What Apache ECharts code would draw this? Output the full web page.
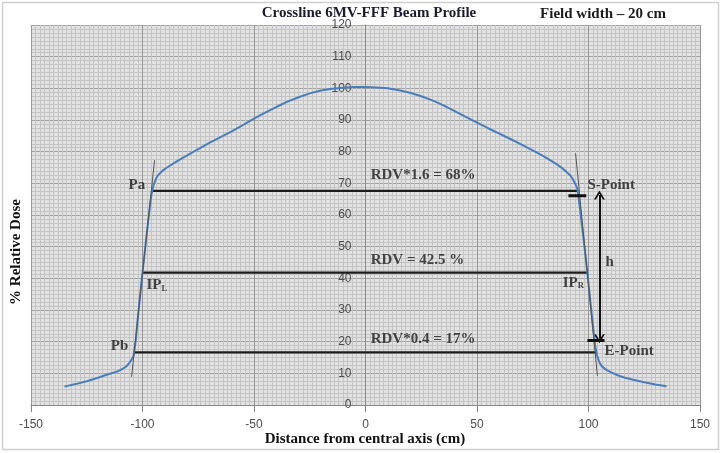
<!DOCTYPE html>
<html>
<head>
<meta charset="utf-8">
<script src="https://cdn.jsdelivr.net/npm/echarts@6/dist/echarts.min.js"></script>
<style>
html,body{margin:0;padding:0;background:#fff;}
#chart{width:722px;height:453px;}
</style>
</head>
<body>
<div id="chart"></div>
<script>
// ---- Data ----
const distance = [-135,-130,-125,-120,-115,-112,-110,-108,-107,-106,-105,-104,-103,-102,-101,-100,-99,-98,-97,-96,-95,-94,-93,-91,-89,-85,-80,-75,-70,-65,-60,-55,-50,-45,-40,-35,-30,-25,-20,-15,-10,-5,0,5,10,15,20,25,30,35,40,45,50,55,60,65,70,75,80,85,88,90,92,93,94,95,96,97,98,99,100,101,102,103,104,105,106,108,110,113,116,120,125,130,135];
const relDose = [5.8,6.6,7.5,8.6,9.8,10.4,11.0,11.8,12.4,13.2,14.2,15.6,20.5,28.2,35.0,42.0,48.3,54.6,60.8,66.4,69.6,71.4,72.6,74.0,75.0,76.8,78.8,80.8,82.8,84.6,86.4,88.4,90.4,92.3,94.1,95.8,97.2,98.4,99.3,99.9,100.2,100.4,100.4,100.3,100.0,99.4,98.6,97.5,96.2,94.6,92.8,91.0,89.2,87.4,85.7,84.0,82.2,80.4,78.5,76.4,74.9,73.7,72.4,71.3,69.9,68.3,63.0,57.0,51.0,45.0,38.3,31.6,25.0,18.6,15.2,13.3,12.2,11.1,10.4,9.4,8.7,8.0,7.2,6.5,5.9];

const xTicks = [-150,-100,-50,0,50,100,150];
const yTicks = [0,10,20,30,40,50,60,70,80,90,100,110,120];

// RDV threshold lines (level, left end, right end, label)
const rdvLevel = [67.6, 41.8, 16.6];
const rdvLeft = [-95.6, -99.9, -103.6];
const rdvRight = [95.5, 99.4, 103.6];
const rdvText = ['RDV*1.6 = 68%', 'RDV = 42.5 %', 'RDV*0.4 = 17%'];
const rdvTextX = [2.3, 2.3, 2.3];
const rdvTextY = [72.6, 45.6, 20.9];

// Tangent lines through the penumbra
const tangentX = [[-94.6, -104.9], [94.2, 104.0]];
const tangentY = [[77.3, 8.9], [79.5, 9.2]];

// S-Point / E-Point short bars
const barX = [[91.0, 99.0], [99.5, 107.2]];
const barY = [66.1, 20.4];

// h double arrow
const arrowX = 104.9;
const arrowY = [66.3, 20.9];

// Point labels
const pointText = ['Pa', 'IP{s|L}', 'Pb', 'S-Point', 'IP{s|R}', 'h', 'E-Point'];
const pointX = [-98.8, -98.2, -106.4, 99.5, 88.4, 107.6, 107.2];
const pointY = [69.4, 37.7, 18.7, 69.3, 38.6, 45.0, 17.0];
const pointSide = ['left', 'right', 'left', 'right', 'right', 'right', 'right'];

// ---- Chart ----
const W = 722, H = 453;
const gridL = 31, gridR = 22, gridT = 25, gridB = 48;
const serif = "'Liberation Serif','Times New Roman',serif";
const annColor = '#1c1c1c';
const chart = echarts.init(document.getElementById('chart'), null, {renderer: 'canvas'});

// y axis crosses at x = 0 -> offset from the left grid edge
const xMin = xTicks[0], xMax = xTicks[xTicks.length - 1];
const yAxisOffset = -(W - gridL - gridR) * (0 - xMin) / (xMax - xMin);

const series = [];
series.push({
  type: 'line', name: 'profile',
  data: distance.map((x, i) => [x, relDose[i]]),
  showSymbol: false, symbol: 'none', smooth: false,
  lineStyle: {color: '#4A7EBB', width: 2},
  z: 5, silent: true
});
rdvLevel.forEach((lv, i) => {
  series.push({
    type: 'line', data: [[rdvLeft[i], lv], [rdvRight[i], lv]],
    symbol: 'none', lineStyle: {color: annColor, width: 2.2}, z: 4, silent: true
  });
});
tangentX.forEach((tx, i) => {
  series.push({
    type: 'line', data: [[tx[0], tangentY[i][0]], [tx[1], tangentY[i][1]]],
    symbol: 'none', lineStyle: {color: '#555', width: 1}, z: 6, silent: true
  });
});
barX.forEach((bx, i) => {
  series.push({
    type: 'line', data: [[bx[0], barY[i]], [bx[1], barY[i]]],
    symbol: 'none', lineStyle: {color: '#111', width: 3}, z: 7, silent: true
  });
});
const chevron = 'path://M0,10 L5,0 L10,10 L8.2,10 L5,3.6 L1.8,10 Z';
series.push({
  type: 'line', data: [], silent: true,
  markLine: {
    silent: true, animation: false,
    symbol: [chevron, chevron], symbolSize: [11, 9],
    lineStyle: {color: '#111', width: 2, type: 'solid'},
    label: {show: false},
    data: [[{coord: [arrowX, arrowY[0]]}, {coord: [arrowX, arrowY[1]]}]]
  }
});
series.push({
  type: 'scatter', symbolSize: 0, silent: true, z: 10,
  data: rdvText.map((t, i) => ({
    value: [rdvTextX[i], rdvTextY[i]],
    label: {show: true, position: 'right', distance: 0, formatter: t,
      fontFamily: serif, fontWeight: 'bold', fontSize: 15, color: annColor}
  }))
});
series.push({
  type: 'scatter', symbolSize: 0, silent: true, z: 10,
  data: pointText.map((t, i) => ({
    value: [pointX[i], pointY[i]],
    label: {show: true, position: pointSide[i], distance: 0, formatter: t,
      fontFamily: serif, fontWeight: 'bold', fontSize: 15, color: annColor,
      rich: {s: {fontFamily: serif, fontWeight: 'bold', fontSize: 8.5, color: annColor, verticalAlign: 'bottom', padding: [6, 0, 0, 0]}}}
  }))
});

chart.setOption({
  animation: false,
  backgroundColor: '#ffffff',
  grid: {left: gridL, right: gridR, top: gridT, bottom: gridB, containLabel: false,
    show: true, backgroundColor: '#e2e2e2', borderWidth: 0},
  xAxis: {
    type: 'value', min: xMin, max: xMax, interval: 50,
    axisLine: {show: true, onZero: false, lineStyle: {color: '#868686', width: 1}},
    axisTick: {show: true, length: 7, lineStyle: {color: '#868686'}},
    axisLabel: {color: '#4d4d4d', fontSize: 12, fontFamily: "'Liberation Sans',Arial,sans-serif", margin: 14},
    splitLine: {show: true, lineStyle: {color: '#979797', width: 1}},
    minorTick: {show: false, splitNumber: 25},
    minorSplitLine: {show: true, lineStyle: {color: '#c4c4c4', width: 1}}
  },
  yAxis: {
    type: 'value', min: yTicks[0], max: yTicks[yTicks.length - 1], interval: 10,
    position: 'left', offset: yAxisOffset,
    axisLine: {show: true, onZero: false, lineStyle: {color: '#8a8a8a', width: 1}},
    axisTick: {show: false},
    axisLabel: {color: '#4d4d4d', fontSize: 12, fontFamily: "'Liberation Sans',Arial,sans-serif", margin: 14},
    splitLine: {show: true, lineStyle: {color: '#a3a3a3', width: 1}},
    minorTick: {show: false, splitNumber: 8},
    minorSplitLine: {show: true, lineStyle: {color: '#c4c4c4', width: 1}}
  },
  graphic: [
    {type: 'rect', shape: {x: 2.5, y: 2.5, width: 716, height: 447}, style: {fill: 'none', stroke: '#cfcfcf', lineWidth: 1.5}, z: 0, silent: true},
    {type: 'text', x: 369, y: 13, style: {text: 'Crossline 6MV-FFF Beam Profile', fontFamily: serif, fontWeight: 'bold', fontSize: 15, fill: '#1c1c30', textAlign: 'center', textVerticalAlign: 'middle'}},
    {type: 'text', x: 603, y: 14, style: {text: 'Field width \u2013 20 cm', fontFamily: serif, fontWeight: 'bold', fontSize: 15, fill: '#1c1c1c', textAlign: 'center', textVerticalAlign: 'middle'}},
    {type: 'text', x: 365, y: 439, style: {text: 'Distance from central axis (cm)', fontFamily: serif, fontWeight: 'bold', fontSize: 15, fill: '#111', textAlign: 'center', textVerticalAlign: 'middle'}},
    {type: 'text', x: 16, y: 252, rotation: Math.PI / 2, style: {text: '% Relative Dose', fontFamily: serif, fontWeight: 'bold', fontSize: 15, fill: '#111', textAlign: 'center', textVerticalAlign: 'middle'}}
  ],
  series: series
});
</script>
</body>
</html>
